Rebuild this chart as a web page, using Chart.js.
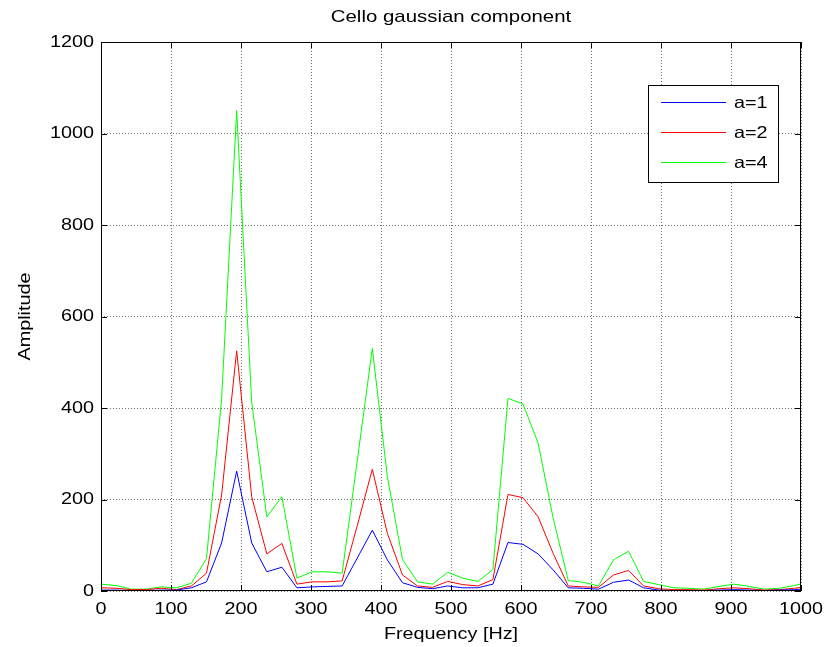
<!DOCTYPE html>
<html>
<head>
<meta charset="utf-8">
<script src="https://cdn.jsdelivr.net/npm/chart.js@4.4.0/dist/chart.umd.min.js"></script>
<style>
  html, body { margin: 0; padding: 0; background: #fff; }
  #wrap { width: 834px; height: 647px; }
</style>
</head>
<body>
<div id="wrap"><canvas id="c" width="834" height="647"></canvas></div>
<script>
// frequency bins (Hz)
const freqs = [0, 21.5, 43.1, 64.6, 86.1, 107.7, 129.2, 150.7, 172.3, 193.8, 215.3, 236.9, 258.4, 279.9, 301.5, 323.0,
  344.5, 366.1, 387.6, 409.1, 430.7, 452.2, 473.7, 495.3, 516.8, 538.3, 559.9, 581.4, 602.9, 624.5, 646.0, 667.5,
  689.1, 710.6, 732.1, 753.7, 775.2, 796.7, 818.3, 839.8, 861.3, 882.9, 904.4, 925.9, 947.5, 969.0, 990.5, 1012.0];

const a1 = [2, 2, 1, 1, 2, 2, 7, 20, 105, 262, 105, 42, 52, 7, 9, 10,
  11, 72, 133, 68, 18, 8, 5, 11, 7, 7, 15, 106, 102, 81, 46, 7,
  6, 4, 19, 24, 7, 2, 1, 1, 1, 2, 3, 2, 1, 2, 3, 5];
const a2 = [7, 6, 3, 3, 6, 3, 11, 39, 210, 525, 206, 81, 104, 15, 20, 20,
  22, 143, 266, 126, 35, 11, 8, 21, 14, 11, 25, 211, 204, 162, 82, 11,
  9, 8, 35, 45, 11, 5, 3, 3, 2, 5, 7, 5, 2, 3, 6, 10];
const a4 = [15, 12, 4, 4, 9, 7, 17, 71, 420, 1050, 412, 162, 206, 28, 42, 42,
  39, 285, 530, 250, 69, 20, 15, 41, 28, 21, 47, 421, 409, 323, 159, 23,
  19, 11, 68, 87, 21, 14, 7, 6, 4, 10, 15, 10, 4, 6, 12, 20];

const seriesNames = ['a=1', 'a=2', 'a=4'];
const seriesColors = ['#0000ff', '#ff0000', '#00ff00'];
const xTicks = [0, 100, 200, 300, 400, 500, 600, 700, 800, 900, 1000];
const yTicks = [0, 200, 400, 600, 800, 1000, 1200];

const FONT = '"Liberation Sans", Arial, Helvetica, sans-serif';

function toPoints(ys) {
  return ys.map((y, i) => ({ x: freqs[i], y: y }));
}

// the reference glyphs are a bit wider than Arial, so stretch them a little
function stretchText(ctx, txt, x, y, size, align, rot) {
  ctx.save();
  ctx.translate(x, y);
  if (rot) ctx.rotate(rot);
  ctx.scale(1.2, 1);
  ctx.font = size + 'px ' + FONT;
  ctx.textAlign = align;
  ctx.textBaseline = 'middle';
  ctx.fillText(txt, 0, 0);
  ctx.restore();
}

// title, axis labels, tick labels, box, inward ticks, legend
const matlabDecor = {
  id: 'matlabDecor',
  afterDraw(chart) {
    const ctx = chart.ctx;
    const a = chart.chartArea;
    const xs = chart.scales.x, ys = chart.scales.y;
    ctx.save();

    // box
    ctx.strokeStyle = '#000';
    ctx.lineWidth = 1;
    ctx.strokeRect(a.left + 0.5, a.top + 0.5, a.right - a.left - 1, a.bottom - a.top - 1);

    // inward ticks on all sides
    ctx.beginPath();
    xTicks.forEach(t => {
      const px = Math.round(xs.getPixelForValue(t)) + 0.5;
      ctx.moveTo(px, a.bottom); ctx.lineTo(px, a.bottom - 6);
      ctx.moveTo(px, a.top); ctx.lineTo(px, a.top + 6);
    });
    yTicks.forEach(t => {
      const py = Math.round(ys.getPixelForValue(t)) + 0.5;
      ctx.moveTo(a.left, py); ctx.lineTo(a.left + 6, py);
      ctx.moveTo(a.right, py); ctx.lineTo(a.right - 6, py);
    });
    ctx.stroke();

    ctx.fillStyle = '#000';
    xTicks.forEach(t => stretchText(ctx, String(t), xs.getPixelForValue(t), 609, 16.5, 'center'));
    yTicks.forEach(t => stretchText(ctx, String(t), 94, ys.getPixelForValue(t), 16.5, 'right'));

    stretchText(ctx, 'Cello gaussian component', (a.left + a.right) / 2, 17, 17, 'center');
    stretchText(ctx, 'Frequency [Hz]', (a.left + a.right) / 2, 634, 16.5, 'center');
    stretchText(ctx, 'Amplitude', 25, (a.top + a.bottom) / 2, 16.5, 'center', -Math.PI / 2);

    // legend
    const lx = 648.5, ly = 85.5, lw = 130, lh = 97;
    ctx.fillStyle = '#fff';
    ctx.fillRect(lx, ly, lw, lh);
    ctx.strokeStyle = '#000';
    ctx.strokeRect(lx, ly, lw, lh);
    const rowY = [102.5, 132.5, 162.5];
    chart.data.datasets.forEach((ds, i) => {
      ctx.strokeStyle = ds.borderColor;
      ctx.beginPath();
      ctx.moveTo(661, rowY[i]); ctx.lineTo(726, rowY[i]);
      ctx.stroke();
      ctx.fillStyle = '#000';
      stretchText(ctx, ds.label, 734, rowY[i] + 1, 16.5, 'left');
    });
    ctx.restore();
  }
};

new Chart(document.getElementById('c'), {
  type: 'line',
  data: {
    datasets: [
      { label: seriesNames[0], data: toPoints(a1), borderColor: seriesColors[0] },
      { label: seriesNames[1], data: toPoints(a2), borderColor: seriesColors[1] },
      { label: seriesNames[2], data: toPoints(a4), borderColor: seriesColors[2] }
    ]
  },
  options: {
    responsive: false,
    animation: false,
    layout: { padding: { top: 42, right: 33, left: 0, bottom: 0 } },
    elements: {
      line: { borderWidth: 1, tension: 0, fill: false },
      point: { radius: 0, hoverRadius: 0 }
    },
    plugins: {
      legend: { display: false },
      title: { display: false },
      tooltip: { enabled: false }
    },
    scales: {
      x: {
        type: 'linear', min: 0, max: 1000,
        afterFit: s => { s.height = 56; },
        afterBuildTicks: s => { s.ticks = xTicks.map(v => ({ value: v })); },
        ticks: { display: false },
        grid: { color: '#707070', lineWidth: 1, drawTicks: false },
        border: { display: false, dash: [1, 2] }
      },
      y: {
        min: 0, max: 1200,
        afterFit: s => { s.width = 101; },
        afterBuildTicks: s => { s.ticks = yTicks.map(v => ({ value: v })); },
        ticks: { display: false },
        grid: { color: '#707070', lineWidth: 1, drawTicks: false },
        border: { display: false, dash: [1, 2] }
      }
    }
  },
  plugins: [matlabDecor]
});
</script>
</body>
</html>
